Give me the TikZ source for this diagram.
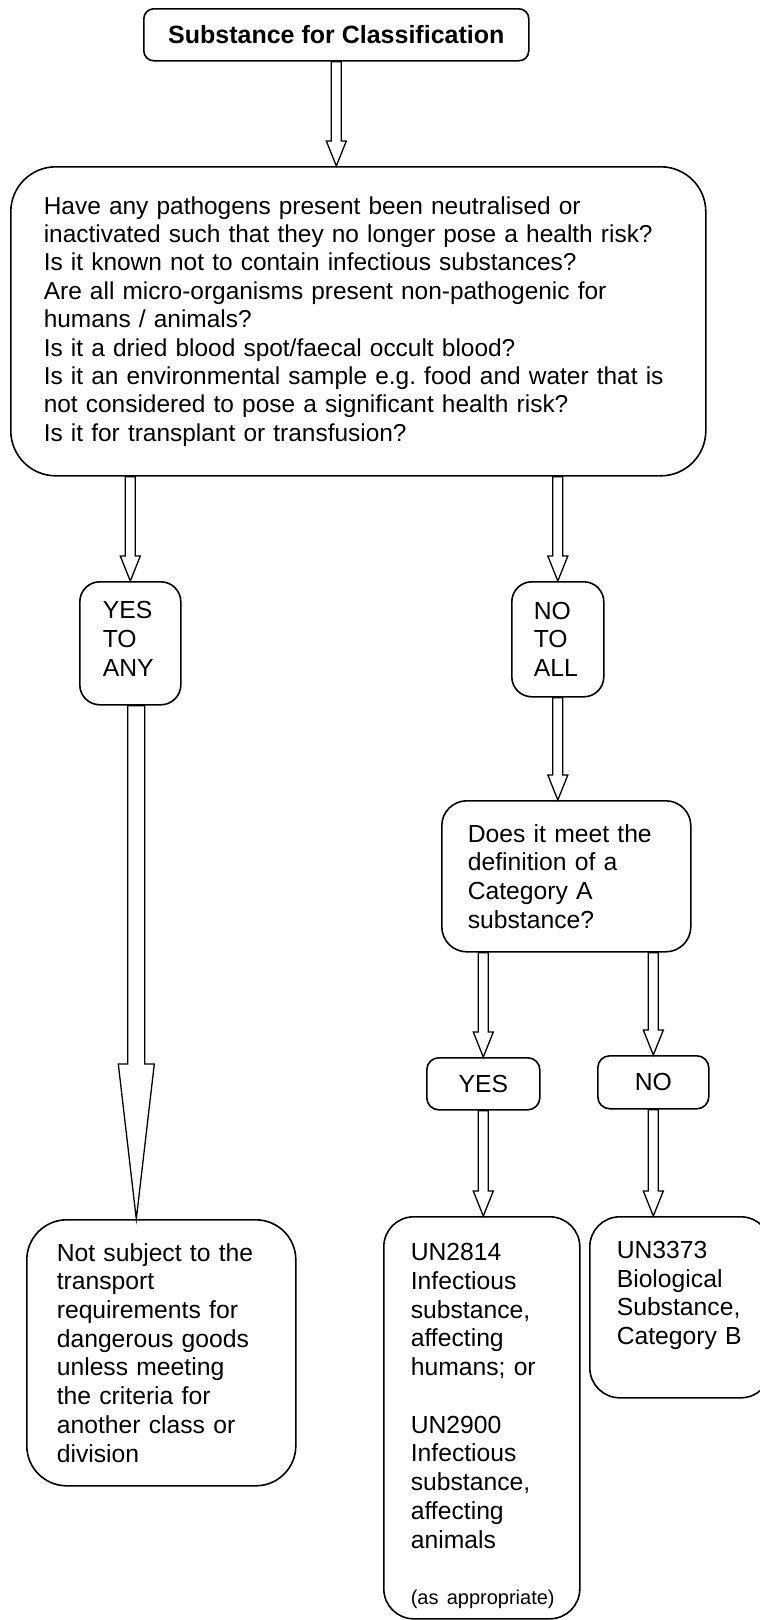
\documentclass[tikz,border=0pt]{standalone}
\usepackage{fontspec}
\setmainfont{Liberation Sans}
\usetikzlibrary{calc}
\frenchspacing

\begin{document}
\begin{tikzpicture}
  [x=1pt,y=-1pt,
   every node/.style={draw, line width=1.6pt, align=left, inner ysep=0pt,
     font=\fontsize{24.7}{28.7}\selectfont},
   box/.style n args={4}{anchor=north west, minimum width=#1, minimum height=#2,
     text width=#3, inner xsep=#4},
   tag/.style 2 args={anchor=north west, minimum width=#1, minimum height=#2,
     align=center, inner xsep=0pt},
   blockarrow/.style n args={3}{draw, fill=white, line width=1.3pt,
     to path={let \p1=(\tikztostart), \p2=(\tikztotarget) in
       (\x1-#1,\y1) -- (\x1-#1,\y2+#3) -- (\x1-#2,\y2+#3) -- (\x1,\y2)
       -- (\x1+#2,\y2+#3) -- (\x1+#1,\y2+#3) -- (\x1+#1,\y1) -- cycle}},
   fat/.style={blockarrow={5pt}{10pt}{25pt}}]
  \useasboundingbox (0,0) rectangle (760,1620);

  \node[tag={385pt}{52pt}, rounded corners=10pt,
    font=\fontsize{25}{28.7}\bfseries] (title) at (143,8) {Substance for Classification};
  \node[box={695pt}{309pt}{629pt}{33pt}, rounded corners=45pt,
    font=\fontsize{24.45}{28.4}\selectfont] (query) at (10,166)
    {Have any pathogens present been neutralised or\\
     inactivated such that they no longer pose a health risk?\\
     Is it known not to contain infectious substances?\\
     Are all micro-organisms present non-pathogenic for\\
     humans / animals?\\
     Is it a dried blood spot/faecal occult blood?\\
     \mbox{Is it an environmental sample e.g. food and water that is}\\
     not considered to pose a significant health risk?\\
     Is it for transplant or transfusion?};

  \node[box={101pt}{123pt}{55pt}{23pt}, rounded corners=20pt, text depth=66pt] (yesany) at (79,581) {YES\\TO\\ANY};
  \node[box={92pt}{115pt}{48pt}{22pt}, rounded corners=20pt] (noall) at (511,581) {NO\\TO\\ALL};
  \node[box={249pt}{151pt}{197pt}{26pt}, rounded corners=25pt] (catA) at (441,800)
    {Does it meet the\\definition of a\\Category A\\substance?};
  \node[tag={113pt}{52pt}, rounded corners=12pt] (yes) at (426,1057) {YES};
  \node[tag={111pt}{53pt}, rounded corners=12pt] (no) at (597,1055) {NO};

  \node[box={269pt}{266pt}{209pt}{30pt}, rounded corners=40pt] (notsub) at (26,1219)
    {Not subject to the\\transport\\requirements for\\dangerous goods\\unless meeting\\the criteria for\\another class or\\division};
  \node[box={196pt}{402pt}{142pt}{27pt}, rounded corners=30pt, text height=34pt] (un2814) at (383,1216)
    {UN2814\\Infectious\\substance,\\affecting\\humans; or\\[29pt]
     UN2900\\Infectious\\substance,\\affecting\\animals\\[28pt]
     \fontsize{20}{24}\selectfont\mbox{(as appropriate)}};
  \node[box={181pt}{181pt}{127pt}{27pt}, rounded corners=30pt, text depth=115pt] (un3373) at (589,1216)
    {UN3373\\Biological\\Substance,\\Category B};

  % arrows
  \foreach \from/\to in {yesany/query,noall/query,yes/catA,no/catA}
    \draw[fat] (\from.north |- \to.south) to (\from.north);
  \foreach \from/\to in {title/query,noall/catA,yes/un2814,no/un3373}
    \draw[fat] (\from.south) to (\from.south |- \to.north);

  \coordinate (yaout) at ([xshift=6pt]yesany.south);
  \draw[blockarrow={8.5pt}{18pt}{155pt}] (yaout) to (yaout |- notsub.north);

\end{tikzpicture}
\end{document}
